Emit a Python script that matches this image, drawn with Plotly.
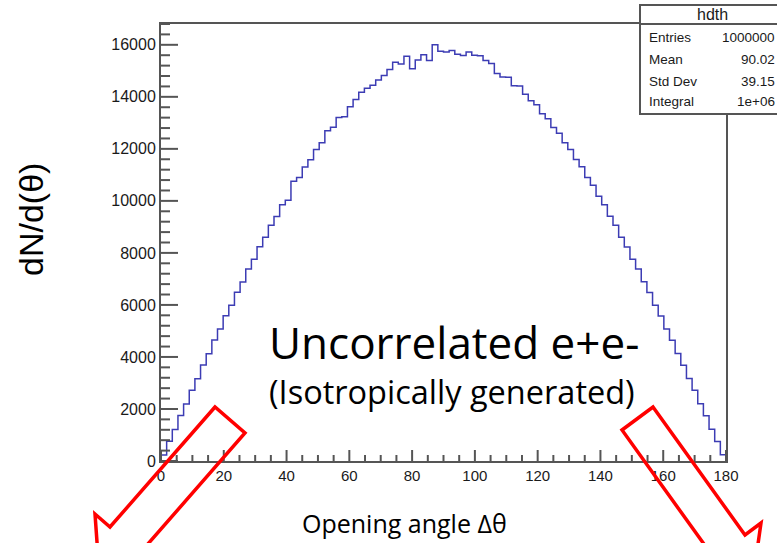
import plotly.graph_objects as go

# ---------------- data ----------------
n_bins = 100
x_min, x_max = 0.0, 180.0
counts = [
    230, 760, 1210, 1750, 2190, 2720, 3160, 3690, 4120, 4650,
    5070, 5580, 5990, 6490, 6880, 7380, 7760, 8240, 8600, 9060,
    9400, 9850, 10020, 10750, 10900, 11300, 11580, 11980, 12230, 12700,
    12830, 13210, 13230, 13620, 13900, 14180, 14330, 14450, 14650, 14820,
    15050, 15330, 15265, 15560, 15075, 15420, 15620, 15400, 16000, 15750,
    15720, 15780, 15640, 15590, 15720, 15600, 15580, 15400, 15280, 14900,
    14760, 14750, 14430, 14420, 14100, 13850, 13700, 13350, 13160, 12820,
    12600, 12230, 11980, 11590, 11310, 10900, 10600, 10180, 9850, 9410,
    9060, 8600, 8230, 7760, 7380, 6890, 6480, 5990, 5570, 5070,
    4640, 4130, 3680, 3170, 2720, 2200, 1740, 1220, 750, 240,
]
x_ticks = [0, 20, 40, 60, 80, 100, 120, 140, 160, 180]
y_ticks = [0, 2000, 4000, 6000, 8000, 10000, 12000, 14000, 16000]
x_minor_step = 5
y_minor_step = 400
y_top = 16800
stats_title = "hdth"
stats_names = ["Entries", "Mean", "Std Dev", "Integral"]
stats_values = ["1000000", "90.02", "39.15", "1e+06"]

# ---------------- geometry helpers ----------------
W, H = 777, 543
L, R, T, B = 161, 726, 24, 461


def px(x):
    return (x - L) / (R - L)


def py(y):
    return (B - y) / (B - T)


bin_w = (x_max - x_min) / n_bins
edges = [x_min + i * bin_w for i in range(n_bins + 1)]
xs = [edges[0]] + edges[:-1] + [edges[-1], edges[-1]]
ys = [0] + counts + [counts[-1], 0]

fig = go.Figure()
fig.add_trace(go.Scatter(
    x=xs, y=ys, mode="lines", line=dict(color="#3c3cb4", width=1.5, shape="hv"),
    hoverinfo="skip", showlegend=False,
))

axis_col = "#555555"
tick_font = dict(family="Liberation Sans, Arial, sans-serif", size=15, color="#1a1a1a")

fig.update_xaxes(
    range=[x_min, x_max], tickmode="array", tickvals=x_ticks,
    ticktext=[str(v) for v in x_ticks], ticks="",
    showline=True, linecolor=axis_col, linewidth=2, mirror=True,
    showgrid=False, zeroline=False, tickfont=tick_font,
)
fig.update_yaxes(
    range=[0, y_top], tickmode="array", tickvals=y_ticks,
    ticktext=[str(v) for v in y_ticks], ticks="",
    showline=True, linecolor=axis_col, linewidth=2, mirror=True,
    showgrid=False, zeroline=False, tickfont=dict(tick_font, size=16),
)

shapes = []


def is_major(v, majors):
    return any(abs(v - t) < 1e-9 for t in majors)


# tick marks drawn inside the frame (ROOT style)
xm = x_min
while xm <= x_max + 1e-9:
    ln = 11 if is_major(xm, x_ticks) else 6
    shapes.append(dict(type="line", xref="x", yref="paper", x0=xm, x1=xm, y0=0,
                       y1=ln / (B - T), line=dict(color=axis_col, width=2), layer="above"))
    xm += x_minor_step
ym = 0
while ym <= y_top:
    ln = 17 if is_major(ym, y_ticks) else 9
    shapes.append(dict(type="line", xref="paper", yref="y", x0=0, x1=ln / (R - L),
                       y0=ym, y1=ym, line=dict(color=axis_col, width=2), layer="above"))
    ym += y_minor_step

# stats box
bx0, bx1, by0, by1 = 640, 800, 114, 5
shapes.append(dict(type="rect", xref="paper", yref="paper", x0=px(bx0), x1=px(bx1),
                   y0=py(by0), y1=py(by1), fillcolor="white",
                   line=dict(color="#555555", width=2), layer="above"))
shapes.append(dict(type="line", xref="paper", yref="paper", x0=px(bx0), x1=px(bx1),
                   y0=py(24), y1=py(24), line=dict(color="#555555", width=2), layer="above"))


def arrow_path(pts):
    s = "M " + " L ".join(f"{px(a):.5f},{py(b):.5f}" for a, b in pts) + " Z"
    return s


left_arrow = [(215, 407), (110, 527), (95, 514), (99, 570), (155, 566), (140, 553), (245, 433)]
right_arrow = [(653, 407), (745, 535), (761, 523), (753, 579), (698, 570), (714, 558), (622, 430)]
for pts in (left_arrow, right_arrow):
    shapes.append(dict(type="path", xref="paper", yref="paper", path=arrow_path(pts),
                       line=dict(color="#ff0000", width=3.5), fillcolor="rgba(0,0,0,0)",
                       layer="above"))

annotations = []
sfont = dict(family="Liberation Sans, Arial, sans-serif", size=13.5, color="#1a1a1a")
annotations.append(dict(xref="paper", yref="paper", x=px(712), y=py(14), text=stats_title,
                        showarrow=False, xanchor="center", yanchor="middle",
                        font=dict(sfont, size=16)))
row_y = [37, 60, 81, 101]
for name, val, yy in zip(stats_names, stats_values, row_y):
    annotations.append(dict(xref="paper", yref="paper", x=px(647), y=py(yy), text=name,
                            showarrow=False, xanchor="left", yanchor="middle", font=sfont))
    annotations.append(dict(xref="paper", yref="paper", x=px(777), y=py(yy), text=val,
                            showarrow=False, xanchor="right", yanchor="middle", font=sfont))

ofont = "Open Sans, Lato, sans-serif"
annotations.append(dict(xref="paper", yref="paper", x=px(267), y=py(342),
                        text="Uncorrelated e+e-", showarrow=False, xanchor="left",
                        yanchor="middle", font=dict(family=ofont, size=44, color="black")))
annotations.append(dict(xref="paper", yref="paper", x=px(267), y=py(391),
                        text="(Isotropically generated)", showarrow=False, xanchor="left",
                        yanchor="middle", font=dict(family=ofont, size=32.5, color="black")))
annotations.append(dict(xref="paper", yref="paper", x=px(404), y=py(523),
                        text="Opening angle Δθ", showarrow=False, xanchor="center",
                        yanchor="middle", font=dict(family=ofont, size=25, color="black")))
annotations.append(dict(xref="paper", yref="paper", x=px(31), y=py(220),
                        text="dN/d(θ)", showarrow=False, xanchor="center", textangle=-90,
                        yanchor="middle",
                        font=dict(family="Liberation Sans, Arial, sans-serif", size=34, color="black")))

fig.update_layout(
    width=W, height=H, autosize=False,
    margin=dict(l=L, r=W - R, t=T, b=H - B, pad=0),
    paper_bgcolor="white", plot_bgcolor="white",
    shapes=shapes, annotations=annotations, showlegend=False,
)

fig.write_html("out.html")
